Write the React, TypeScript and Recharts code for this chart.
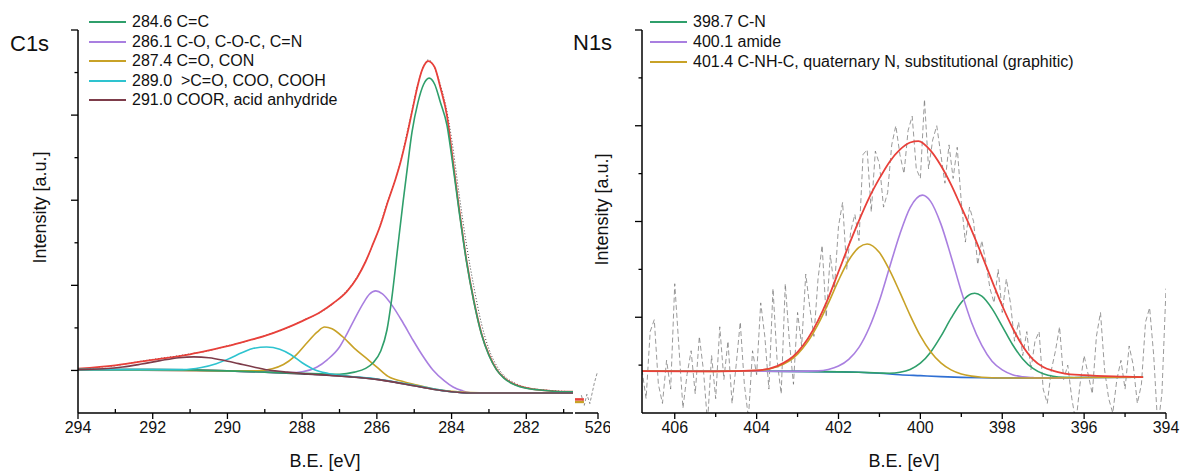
import { LineChart, Line, XAxis, YAxis } from 'recharts'

const FONT = '"Liberation Sans", Arial, Helvetica, sans-serif'

type Pt = [number, number]

// ---- C1s panel: [B.E. eV, intensity a.u.] ----
const c1sRaw: Pt[] = [
  [294, 1.0], [293.5, 1.07], [293, 1.11], [292.5, 1.19], [292, 1.26], [291.5, 1.32], [291, 1.39],
  [290.5, 1.46], [290, 1.58], [289.5, 1.68], [289, 1.82], [288.5, 1.96], [288, 2.17], [287.5, 2.37],
  [287, 2.7], [286.5, 3.24], [286, 4.2], [285.7, 5.0], [285.4, 5.8], [285.1, 6.95], [284.9, 7.74],
  [284.75, 8.15], [284.62, 8.3], [284.48, 8.16], [284.33, 7.8], [284.15, 7.2], [284.0, 6.45],
  [283.8, 5.15], [283.6, 3.95], [283.4, 2.95], [283.2, 2.1], [283.0, 1.5], [282.8, 1.12],
  [282.6, 0.88], [282.3, 0.7], [282.0, 0.6], [281.5, 0.54], [281.0, 0.51], [280.75, 0.5],
]
const c1sEnvelope: Pt[] = [
  [294, 1.04], [293, 1.12], [292, 1.25], [291, 1.38], [290.5, 1.47], [290, 1.57], [289.5, 1.69],
  [289, 1.81], [288.5, 1.97], [288, 2.16], [287.5, 2.38], [287.17, 2.58], [286.8, 2.86],
  [286.53, 3.18], [286.3, 3.56], [286.1, 3.98], [285.91, 4.4], [285.7, 4.98], [285.5, 5.5],
  [285.38, 5.85], [285.2, 6.5], [285.03, 7.2], [284.9, 7.72], [284.79, 8.06], [284.7, 8.22],
  [284.63, 8.27], [284.55, 8.24], [284.45, 8.12], [284.3, 7.65], [284.12, 6.97], [284.0, 6.17],
  [283.8, 4.81], [283.6, 3.58], [283.4, 2.62], [283.2, 1.87], [283.0, 1.37], [282.8, 1.03],
  [282.6, 0.83], [282.3, 0.67], [282.0, 0.59], [281.5, 0.53], [281.0, 0.5], [280.75, 0.5],
]
const c1sCC: Pt[] = [
  [294, 1.02], [292, 1.02], [290, 0.99], [289, 0.96], [288, 0.93], [287.5, 0.92], [287, 0.91],
  [286.6, 0.96], [286.3, 1.05], [286.1, 1.18], [285.9, 1.45], [285.73, 1.95], [285.6, 2.7],
  [285.46, 3.75], [285.3, 4.95], [285.2, 5.65], [285.06, 6.6], [284.9, 7.3], [284.75, 7.72],
  [284.6, 7.87], [284.45, 7.72], [284.3, 7.3], [284.12, 6.75], [284.0, 6.05], [283.8, 4.75],
  [283.6, 3.55], [283.4, 2.6], [283.2, 1.85], [283.0, 1.35], [282.8, 1.02], [282.6, 0.82],
  [282.3, 0.66], [282.0, 0.58], [281.5, 0.53], [281.0, 0.5], [280.75, 0.5],
]
const c1sCO: Pt[] = [
  [294, 1.02], [290, 0.99], [289, 0.96], [288.3, 0.95], [288, 0.97], [287.6, 1.08], [287.33, 1.25],
  [287, 1.55], [286.8, 1.86], [286.6, 2.2], [286.37, 2.57], [286.2, 2.79], [286.03, 2.87],
  [285.85, 2.8], [285.57, 2.5], [285.3, 2.12], [285.03, 1.71], [284.8, 1.38], [284.5, 1.01],
  [284.2, 0.76], [283.96, 0.61], [283.7, 0.52], [283.42, 0.47], [283, 0.47], [280.75, 0.47],
]
const c1sCdO: Pt[] = [
  [294, 1.02], [290, 0.99], [289.2, 0.99], [288.8, 1.04], [288.5, 1.14], [288.2, 1.33],
  [287.9, 1.62], [287.6, 1.9], [287.4, 2.02], [287.2, 1.98], [286.9, 1.78], [286.6, 1.52],
  [286.3, 1.3], [286.0, 1.08], [285.7, 0.86], [285.3, 0.74], [284.9, 0.65], [284.5, 0.57],
  [284, 0.51], [283.5, 0.48], [283, 0.47], [280.75, 0.47],
]
const c1sCOO: Pt[] = [
  [294, 1.02], [291.2, 1.02], [290.7, 1.07], [290.3, 1.16], [290, 1.26], [289.6, 1.42],
  [289.3, 1.52], [288.95, 1.55], [288.6, 1.5], [288.3, 1.37], [288, 1.18], [287.7, 1.03],
  [287.3, 0.93], [286.8, 0.87], [286, 0.8], [285, 0.65], [284, 0.5], [283.5, 0.47], [280.75, 0.47],
]
const c1sCOOR: Pt[] = [
  [294, 1.02], [293.3, 1.04], [292.8, 1.08], [292.3, 1.15], [291.8, 1.23], [291.3, 1.3],
  [290.9, 1.32], [290.5, 1.3], [290.1, 1.24], [289.7, 1.16], [289.3, 1.08], [288.9, 1.01],
  [288.4, 0.96], [288, 0.93], [287, 0.87], [286, 0.79], [285, 0.64], [284.5, 0.56], [284, 0.5],
  [283.5, 0.47], [280.75, 0.47],
]
const c1sBackground: Pt[] = [
  [294, 1.02], [292, 1.02], [290, 0.99], [289, 0.96], [288, 0.92], [287, 0.87], [286, 0.79],
  [285.5, 0.72], [285, 0.64], [284.5, 0.56], [284, 0.5], [283.5, 0.47], [283, 0.47], [280.75, 0.47],
]
// data past the axis break (526 eV)
const brkRaw: Pt[] = [[526.45, 0.42], [526.37, 0.18], [526.3, 0.44], [526.22, 0.22], [526.1, 0.7], [526.02, 0.95]]
const brkEnvelope: Pt[] = [[526.62, 0.32], [526.38, 0.32]]
const brkCdO: Pt[] = [[526.62, 0.26], [526.38, 0.26]]

const c1sXTicks = [294, 293, 292, 291, 290, 289, 288, 287, 286, 285, 284, 283, 282, 281]
const c1sYTicks = [1, 2, 3, 4, 5, 6, 7, 8, 9]
const brkXTicks = [526]
const c1sLabels = ['284.6 C=C', '286.1 C-O, C-O-C, C=N', '287.4 C=O, CON', '289.0  >C=O, COO, COOH', '291.0 COOR, acid anhydride']

// ---- N1s panel ----
const n1sRaw: Pt[] = [
  [406.8, 0.9], [406.7, 0.3], [406.6, 1.7], [406.5, 1.95], [406.4, 0.6], [406.3, 0.2], [406.2, 1.1],
  [406.1, 0.5], [406.0, 2.7], [405.9, 1.4], [405.8, 0.1], [405.7, 0.8], [405.6, 1.3], [405.5, 0.4],
  [405.4, 1.6], [405.3, 0.9], [405.2, -0.2], [405.1, 1.2], [405.0, 0.3], [404.9, 1.8], [404.8, 0.7],
  [404.7, 1.5], [404.6, 0.2], [404.5, 1.0], [404.4, 1.9], [404.3, 0.6], [404.2, -0.1], [404.1, 1.3],
  [404.0, 0.8], [403.9, 2.3], [403.8, 1.6], [403.7, 0.5], [403.6, 2.6], [403.5, 1.1], [403.4, 0.4],
  [403.3, 2.7], [403.2, 1.5], [403.1, 0.6], [403.0, 2.1], [402.9, 1.4], [402.8, 2.9], [402.7, 2.2],
  [402.6, 1.6], [402.5, 2.8], [402.4, 3.5], [402.3, 2.0], [402.2, 3.3], [402.1, 2.6], [402.0, 3.9],
  [401.9, 4.4], [401.8, 3.0], [401.7, 3.8], [401.6, 4.15], [401.5, 3.6], [401.4, 5.4], [401.3, 5.5],
  [401.2, 4.2], [401.1, 5.47], [401.0, 5.2], [400.9, 4.3], [400.8, 4.6], [400.7, 5.6], [400.6, 6.0],
  [400.5, 5.4], [400.4, 5.0], [400.3, 5.9], [400.2, 6.2], [400.1, 5.1], [400.0, 4.9], [399.9, 6.55],
  [399.8, 5.1], [399.7, 5.7], [399.6, 6.0], [399.5, 5.4], [399.4, 4.8], [399.3, 5.6], [399.2, 4.9],
  [399.1, 5.55], [399.0, 4.4], [398.9, 3.57], [398.8, 4.3], [398.7, 4.0], [398.6, 3.1], [398.5, 3.6],
  [398.4, 3.15], [398.3, 2.6], [398.2, 2.3], [398.1, 3.0], [398.0, 2.1], [397.9, 2.8], [397.8, 2.3],
  [397.7, 1.5], [397.6, 1.9], [397.5, 1.2], [397.4, 1.7], [397.3, 0.9], [397.2, 1.5], [397.1, 1.7],
  [397.0, 0.5], [396.9, 0.2], [396.8, 0.9], [396.7, 1.3], [396.6, 1.8], [396.5, 0.7], [396.4, 1.0],
  [396.3, 0.3], [396.2, -0.2], [396.1, 0.6], [396.0, 1.2], [395.9, 0.8], [395.8, 0.4], [395.7, 1.6],
  [395.6, 2.1], [395.5, 0.9], [395.4, 0.3], [395.3, 0.0], [395.2, 0.7], [395.1, 1.1], [395.0, 0.5],
  [394.9, 1.4], [394.8, 1.0], [394.7, 0.2], [394.6, 0.6], [394.5, 1.9], [394.4, 2.2], [394.3, 1.2],
  [394.2, -0.3], [394.1, 0.4], [394.0, 2.6],
]
const n1sEnvelope: Pt[] = [
  [406.8, 0.875], [405, 0.87], [404, 0.89], [403.5, 0.98], [403, 1.27], [402.75, 1.55], [402.5, 1.93],
  [402.25, 2.4], [402, 2.95], [401.75, 3.5], [401.5, 4.02], [401.25, 4.5], [401, 4.9], [400.75, 5.25],
  [400.5, 5.5], [400.25, 5.65], [400.05, 5.68], [399.75, 5.48], [399.5, 5.17], [399.25, 4.77],
  [399, 4.3], [398.75, 3.82], [398.5, 3.3], [398.25, 2.76], [398, 2.24], [397.75, 1.78], [397.5, 1.4],
  [397.25, 1.12], [397, 0.96], [396.75, 0.88], [396.5, 0.83], [396, 0.79], [395, 0.76], [394.56, 0.75],
]
const n1sCN: Pt[] = [
  [406.8, 0.875], [403, 0.87], [402, 0.86], [401.5, 0.85], [401, 0.835], [400.75, 0.83], [400.5, 0.85],
  [400.25, 0.91], [400, 1.04], [399.75, 1.27], [399.5, 1.6], [399.25, 1.98], [399, 2.31], [398.75, 2.49],
  [398.67, 2.5], [398.5, 2.44], [398.25, 2.18], [398, 1.81], [397.75, 1.43], [397.5, 1.13],
  [397.25, 0.93], [397, 0.82], [396.5, 0.745], [396, 0.74], [394.56, 0.75],
]
const n1sAmide: Pt[] = [
  [406.8, 0.875], [403, 0.87], [402.5, 0.88], [402.25, 0.91], [402, 0.98], [401.75, 1.12], [401.5, 1.37],
  [401.25, 1.78], [401, 2.35], [400.75, 3.05], [400.5, 3.74], [400.25, 4.29], [399.95, 4.55],
  [399.75, 4.42], [399.5, 3.95], [399.25, 3.27], [399, 2.54], [398.75, 1.89], [398.5, 1.41],
  [398.25, 1.08], [398, 0.9], [397.75, 0.8], [397.5, 0.757], [397.25, 0.74], [397, 0.73], [396, 0.74],
  [394.56, 0.75],
]
const n1sGraphitic: Pt[] = [
  [406.8, 0.875], [405, 0.87], [404, 0.887], [403.5, 0.964], [403, 1.23], [402.75, 1.49], [402.5, 1.85],
  [402.25, 2.29], [402, 2.77], [401.75, 3.19], [401.5, 3.46], [401.3, 3.53], [401, 3.35], [400.75, 2.98],
  [400.5, 2.52], [400.25, 2.04], [400, 1.61], [399.75, 1.28], [399.5, 1.045], [399.25, 0.9],
  [399, 0.814], [398.75, 0.77], [398.5, 0.747], [398, 0.73], [397, 0.73], [396, 0.74], [394.56, 0.75],
]
const n1sBackground: Pt[] = [
  [406.8, 0.875], [403, 0.87], [402, 0.86], [401.5, 0.85], [401, 0.83], [400.5, 0.8], [400, 0.78],
  [399.5, 0.76], [399, 0.745], [398.5, 0.735], [398, 0.73], [397, 0.73], [396, 0.74], [394.56, 0.75],
]
const n1sXTicks = [406, 405, 404, 403, 402, 401, 400, 399, 398, 397, 396, 395, 394]
const n1sYTicks = [1, 2, 3, 4, 5, 6, 7, 8]
const n1sLabels = ['398.7 C-N', '400.1 amide', '401.4 C-NH-C, quaternary N, substitutional (graphitic)']

const GREEN = '#2f9f6b'
const PURPLE = '#a97fe0'
const GOLD = '#c8a227'
const CYAN = '#2ec3cf'
const BROWN = '#7d3c4a'
const RED = '#e8403a'
const BLUE = '#2f6fd3'
const c1sColors = [GREEN, PURPLE, GOLD, CYAN, BROWN]
const n1sColors = [GREEN, PURPLE, GOLD]

const pts = (a: Pt[]) => a.map(([x, y]) => ({ x, y }))
const AXIS = { stroke: '#000', strokeWidth: 1.5 }

function XTick(props: any) {
  const { x, y, payload, minorUp } = props
  const major = payload.value % 2 === 0
  const len = major ? 6 : 4
  const y2 = !major && minorUp ? y - len : y + len
  return (
    <g>
      <line x1={x} x2={x} y1={y} y2={y2} stroke="#000" strokeWidth={1.3} />
      {major && (
        <text x={x} y={y + 20} textAnchor="middle" fontSize={16} fill="#111" fontFamily={FONT}>
          {payload.value}
        </text>
      )}
    </g>
  )
}

function YTick(props: any) {
  const { x, y, payload, majorOdd } = props
  const major = majorOdd ? payload.value % 2 === 1 : payload.value % 2 === 0
  return <line x1={x} x2={x - (major ? 7 : 3.5)} y1={y} y2={y} stroke="#000" strokeWidth={1.3} />
}

function line(data: Pt[], color: string, width = 1.6, dash?: string, kind: any = 'monotone') {
  return (
    <Line
      data={pts(data)}
      dataKey="y"
      type={kind}
      stroke={color}
      strokeWidth={width}
      strokeDasharray={dash}
      dot={false}
      activeDot={false}
      isAnimationActive={false}
    />
  )
}

function Legend({ labels, colors, left, lineW, top, step }: any) {
  return (
    <>
      {labels.map((t: string, i: number) => (
        <div
          key={t}
          style={{ position: 'absolute', left, top: top + i * step - 10, height: 20, display: 'flex', alignItems: 'center', whiteSpace: 'pre', fontSize: 16, color: '#111' }}
        >
          <div style={{ width: lineW, height: 2, background: colors[i], marginRight: 6 }} />
          {t}
        </div>
      ))}
    </>
  )
}

const abs = (left: number, top: number): any => ({ position: 'absolute', left, top })

export default function App() {
  return (
    <div style={{ position: 'absolute', left: 0, top: 0, width: 1182, height: 473, background: '#fff', fontFamily: FONT, overflow: 'hidden' }}>
      {/* C1s */}
      <div style={abs(0, 0)}>
        <LineChart width={600} height={473} margin={{ top: 30, right: 27, bottom: 30, left: 58 }}>
          <XAxis
            type="number" dataKey="x" domain={[280.75, 294]} reversed allowDataOverflow
            ticks={c1sXTicks} interval={0} height={30} tickSize={0} tickMargin={0} tickLine={false}
            axisLine={AXIS} tick={(p: any) => <XTick {...p} minorUp />}
          />
          <YAxis
            type="number" domain={[0, 9]} allowDataOverflow ticks={c1sYTicks} interval={0} width={20}
            tickSize={0} tickMargin={0} tickLine={false} axisLine={AXIS}
            tick={(p: any) => <YTick {...p} majorOdd />}
          />
          {line(c1sRaw, '#444', 1, '1 2')}
          {line(c1sEnvelope, RED, 1.8)}
          {line(c1sBackground, '#4a3550', 1.6)}
          {line(c1sCO, PURPLE)}
          {line(c1sCdO, GOLD)}
          {line(c1sCC, GREEN)}
          {line(c1sCOO, CYAN)}
          {line(c1sCOOR, BROWN)}
        </LineChart>
      </div>
      {/* axis break segment */}
      <div style={abs(560, 0)}>
        <LineChart width={50} height={473} margin={{ top: 30, right: 12, bottom: 30, left: 15 }}>
          <XAxis
            type="number" dataKey="x" domain={[526, 526.62]} reversed allowDataOverflow
            ticks={brkXTicks} interval={0} height={30} tickSize={0} tickMargin={0} tickLine={false}
            axisLine={AXIS} tick={(p: any) => <XTick {...p} />}
          />
          <YAxis hide type="number" domain={[0, 9]} allowDataOverflow />
          {line(brkRaw, '#777', 0.8, '3 2', 'linear')}
          {line(brkCdO, GOLD, 2.5)}
          {line(brkEnvelope, RED, 2.5)}
        </LineChart>
      </div>
      {/* N1s */}
      <div style={abs(590, 0)}>
        <LineChart width={592} height={473} margin={{ top: 30, right: 16, bottom: 30, left: 32 }}>
          <XAxis
            type="number" dataKey="x" domain={[394, 406.8]} reversed allowDataOverflow
            ticks={n1sXTicks} interval={0} height={30} tickSize={0} tickMargin={0} tickLine={false}
            axisLine={AXIS} tick={(p: any) => <XTick {...p} />}
          />
          <YAxis
            type="number" domain={[0, 8]} allowDataOverflow ticks={n1sYTicks} interval={0} width={20}
            tickSize={0} tickMargin={0} tickLine={false} axisLine={AXIS}
            tick={(p: any) => <YTick {...p} />}
          />
          {line(n1sRaw, '#6e6e6e', 0.7, '5 3', 'linear')}
          {line(n1sBackground, BLUE)}
          {line(n1sCN, GREEN)}
          {line(n1sAmide, PURPLE)}
          {line(n1sGraphitic, GOLD)}
          {line(n1sEnvelope, RED, 1.8)}
        </LineChart>
      </div>

      <div style={{ ...abs(10, 31), fontSize: 22, color: '#111' }}>C1s</div>
      <div style={{ ...abs(573, 30), fontSize: 22, color: '#111' }}>N1s</div>
      <Legend labels={c1sLabels} colors={c1sColors} left={89} lineW={37} top={22} step={19.5} />
      <Legend labels={n1sLabels} colors={n1sColors} left={650} lineW={37} top={22} step={20} />

      <div style={{ ...abs(40 - 80, 208 - 11), width: 160, textAlign: 'center', fontSize: 18, color: '#111', transform: 'rotate(-90deg)' }}>Intensity [a.u.]</div>
      <div style={{ ...abs(602 - 80, 210 - 11), width: 160, textAlign: 'center', fontSize: 18, color: '#111', transform: 'rotate(-90deg)' }}>Intensity [a.u.]</div>
      <div style={{ ...abs(325 - 80, 451), width: 160, textAlign: 'center', fontSize: 18, color: '#111' }}>B.E. [eV]</div>
      <div style={{ ...abs(904 - 80, 451), width: 160, textAlign: 'center', fontSize: 18, color: '#111' }}>B.E. [eV]</div>
    </div>
  )
}
